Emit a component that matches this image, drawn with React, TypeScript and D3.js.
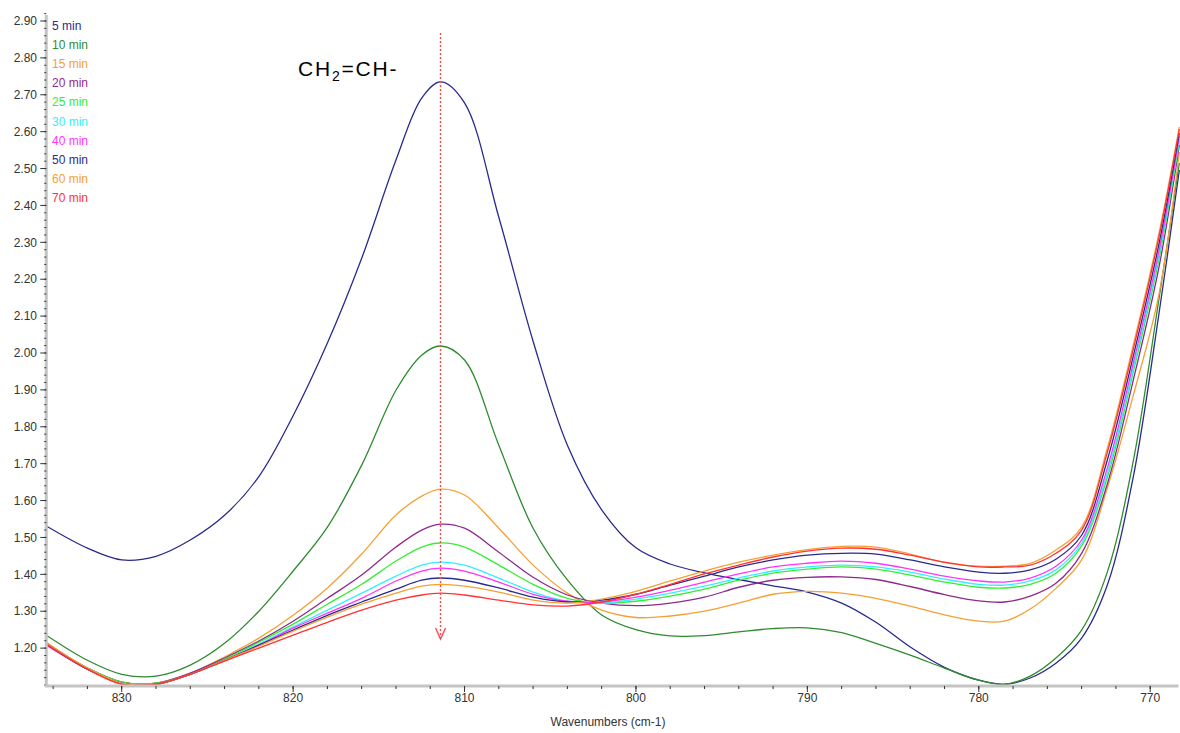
import * as d3 from "d3"

// wavenumber grid (cm-1)
const wavenumbers = [
  834.4, 832, 830, 828, 826, 824, 822, 820, 818, 816, 814, 812.5, 811.4, 810, 808, 806, 804, 802, 800,
  798, 796, 794, 792, 790, 788, 786, 784, 782, 780, 778.5, 777, 775.5, 774, 772.5, 771, 769.5, 768.3,
]

const min5 = [
  1.531, 1.471, 1.439, 1.449, 1.493, 1.56, 1.665, 1.83, 2.027, 2.257, 2.523, 2.691, 2.735, 2.678, 2.368,
  2.032, 1.75, 1.575, 1.472, 1.428, 1.404, 1.386, 1.369, 1.352, 1.322, 1.27, 1.203, 1.148, 1.113, 1.102,
  1.119, 1.159, 1.227, 1.371, 1.661, 2.103, 2.496,
]
const min10 = [
  1.235, 1.167, 1.129, 1.124, 1.154, 1.213, 1.3, 1.409, 1.528, 1.696, 1.899, 1.994, 2.019, 1.981, 1.75,
  1.525, 1.385, 1.29, 1.25, 1.233, 1.234, 1.244, 1.253, 1.255, 1.242, 1.213, 1.181, 1.146, 1.113, 1.102,
  1.124, 1.173, 1.249, 1.406, 1.704, 2.143, 2.515,
]
const min15 = [
  1.216, 1.146, 1.108, 1.105, 1.132, 1.176, 1.227, 1.289, 1.363, 1.455, 1.561, 1.612, 1.631, 1.615, 1.525,
  1.425, 1.349, 1.303, 1.283, 1.287, 1.3, 1.322, 1.346, 1.354, 1.349, 1.335, 1.314, 1.29, 1.273, 1.273,
  1.306, 1.362, 1.439, 1.634, 1.883, 2.157, 2.545,
]
const min20 = [
  1.213, 1.146, 1.108, 1.105, 1.132, 1.173, 1.219, 1.273, 1.335, 1.398, 1.474, 1.52, 1.536, 1.525, 1.46,
  1.392, 1.344, 1.322, 1.315, 1.322, 1.338, 1.365, 1.384, 1.392, 1.393, 1.386, 1.367, 1.345, 1.328, 1.325,
  1.341, 1.376, 1.457, 1.645, 1.924, 2.23, 2.564,
]
const min25 = [
  1.213, 1.146, 1.108, 1.105, 1.129, 1.17, 1.216, 1.265, 1.319, 1.373, 1.436, 1.474, 1.485, 1.474, 1.425,
  1.373, 1.335, 1.322, 1.327, 1.341, 1.36, 1.384, 1.403, 1.414, 1.42, 1.414, 1.398, 1.379, 1.365, 1.363,
  1.373, 1.403, 1.477, 1.663, 1.946, 2.252, 2.575,
]
const min30 = [
  1.211, 1.143, 1.105, 1.102, 1.129, 1.167, 1.211, 1.257, 1.303, 1.349, 1.395, 1.425, 1.433, 1.425, 1.39,
  1.352, 1.327, 1.322, 1.333, 1.349, 1.368, 1.39, 1.409, 1.42, 1.425, 1.42, 1.406, 1.387, 1.373, 1.371,
  1.382, 1.412, 1.485, 1.674, 1.956, 2.263, 2.58,
]
const min40 = [
  1.208, 1.143, 1.105, 1.102, 1.129, 1.167, 1.208, 1.254, 1.295, 1.335, 1.382, 1.409, 1.417, 1.409, 1.379,
  1.346, 1.327, 1.325, 1.338, 1.357, 1.379, 1.401, 1.42, 1.43, 1.436, 1.43, 1.414, 1.395, 1.382, 1.379,
  1.39, 1.422, 1.493, 1.688, 1.97, 2.274, 2.588,
]
const min50 = [
  1.211, 1.143, 1.105, 1.102, 1.129, 1.167, 1.208, 1.249, 1.289, 1.325, 1.36, 1.384, 1.39, 1.384, 1.363,
  1.338, 1.325, 1.33, 1.346, 1.371, 1.395, 1.42, 1.439, 1.452, 1.457, 1.455, 1.439, 1.42, 1.406, 1.403,
  1.412, 1.441, 1.506, 1.71, 1.989, 2.293, 2.596,
]
const min60 = [
  1.213, 1.146, 1.105, 1.102, 1.129, 1.167, 1.205, 1.246, 1.284, 1.319, 1.349, 1.368, 1.373, 1.368, 1.352,
  1.33, 1.322, 1.333, 1.354, 1.382, 1.409, 1.433, 1.452, 1.467, 1.476, 1.474, 1.455, 1.432, 1.422, 1.422,
  1.43, 1.466, 1.528, 1.742, 2.019, 2.322, 2.613,
]
const min70 = [
  1.211, 1.143, 1.102, 1.102, 1.129, 1.165, 1.2, 1.235, 1.27, 1.303, 1.33, 1.344, 1.349, 1.344, 1.33,
  1.317, 1.314, 1.325, 1.346, 1.373, 1.401, 1.425, 1.447, 1.463, 1.471, 1.468, 1.452, 1.433, 1.42, 1.42,
  1.425, 1.457, 1.52, 1.731, 2.008, 2.312, 2.607,
]

const seriesNames = ["5 min", "10 min", "15 min", "20 min", "25 min", "30 min", "40 min", "50 min", "60 min", "70 min"]
const seriesValues = [min5, min10, min15, min20, min25, min30, min40, min50, min60, min70]
const seriesColors = [
  "#2a2a8e", "#2e8b2e", "#f5a033", "#8e2a8e", "#33ee33",
  "#33f0ff", "#ff33ff", "#2a2a8e", "#f5a033", "#ff3333",
]

const yMajorTicks = d3.range(1.2, 2.901, 0.1)
const yMinorTicks = d3.range(1.1, 2.921, 0.02)
const xMajorTicks = [830, 820, 810, 800, 790, 780, 770]
const xMinorTicks = d3.range(834, 768, -2)

const peakWavenumber = 811.4

const W = 1180
const H = 733
const FONT = "Arial, 'Liberation Sans', sans-serif"

export default function App() {
  const x = d3.scaleLinear().domain([830, 770]).range([121.7, 1150.2])
  const y = d3.scaleLinear().domain([1.1, 2.9]).range([685, 21])
  const left = x(834.4)
  const bottom = y(1.1)

  const line = d3
    .line<number>()
    .x((_d, i) => x(wavenumbers[i]))
    .y((d) => y(d))
    .curve(d3.curveCatmullRom.alpha(0.5))

  const ax = x(peakWavenumber)

  return (
    <svg
      width={W}
      height={H}
      style={{ position: "absolute", left: 0, top: 0, background: "#fff" }}
      fontFamily={FONT}
    >
      <defs>
        <clipPath id="plot">
          <rect x={left} y={0} width={W - left} height={bottom} />
        </clipPath>
      </defs>

      {/* courbes */}
      <g clipPath="url(#plot)">
        {seriesValues.map((vals, i) => (
          <path key={seriesNames[i]} d={line(vals) ?? ""} fill="none" stroke={seriesColors[i]} strokeWidth={1.3} />
        ))}
      </g>

      {/* flèche pointillée */}
      <line x1={ax} x2={ax} y1={33} y2={638} stroke="#ff4a4a" strokeWidth={1.4} strokeDasharray="2,2" />
      <path d={`M${ax - 5},${628} L${ax},${639} L${ax + 5},${628}`} fill="none" stroke="#ff4a4a" strokeWidth={1.4} />

      <text x={298} y={76} fontSize={21} fill="#000" letterSpacing={1.8}>
        CH
        <tspan fontSize={14} dy={5}>2</tspan>
        <tspan dy={-5}>=CH-</tspan>
      </text>

      {/* axe Y */}
      <rect x={left - 1.5} y={15} width={3} height={bottom - 15 + 2} fill="#c4c4c4" />
      {yMinorTicks.map((t) => (
        <line key={"ym" + t} x1={left - 2} x2={left} y1={y(t)} y2={y(t)} stroke="#333" />
      ))}
      {yMajorTicks.map((t) => (
        <g key={"yM" + t}>
          <line x1={left - 6} x2={left} y1={y(t)} y2={y(t)} stroke="#333" />
          <text x={37} y={y(t)} dy="0.35em" textAnchor="end" fontSize={12} fill="#333">
            {t.toFixed(2)}
          </text>
        </g>
      ))}

      {/* axe X */}
      <rect x={left - 1.5} y={bottom - 0.5} width={W - left} height={3} fill="#c4c4c4" />
      {xMinorTicks.map((t) => (
        <line key={"xm" + t} x1={x(t)} x2={x(t)} y1={bottom + 1} y2={bottom + 4} stroke="#333" />
      ))}
      {xMajorTicks.map((t) => (
        <g key={"xM" + t}>
          <line x1={x(t)} x2={x(t)} y1={bottom + 1} y2={bottom + 7} stroke="#333" />
          <text x={x(t)} y={702} textAnchor="middle" fontSize={12} fill="#333">
            {t}
          </text>
        </g>
      ))}
      <text x={608} y={726} textAnchor="middle" fontSize={12} fill="#333">
        Wavenumbers (cm-1)
      </text>

      {/* légende */}
      {seriesNames.map((n, i) => (
        <text key={"lg" + n} x={52} y={30 + i * 19.1} fontSize={12} fill={seriesColors[i]}>
          {n}
        </text>
      ))}
    </svg>
  )
}
